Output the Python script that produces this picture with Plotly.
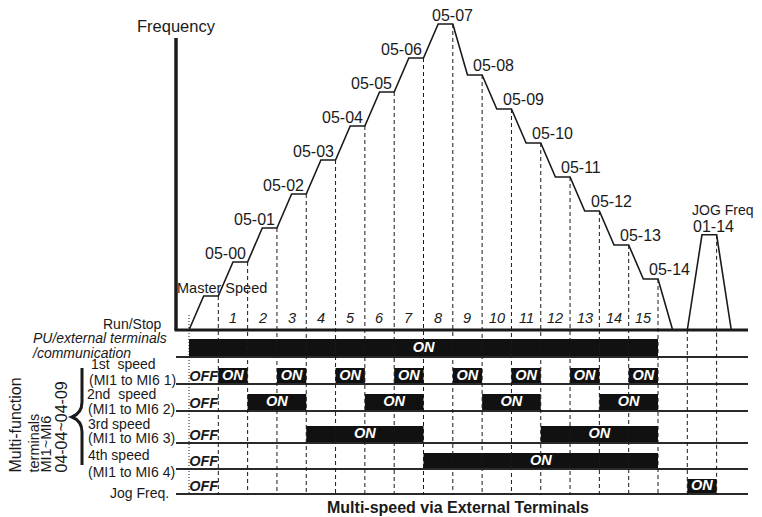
"""Multi-speed via external terminals: timing diagram."""

import plotly.graph_objects as go

FONT = "Liberation Sans, Arial, Helvetica, sans-serif"
INK = "#1a1a1a"

# ---- data -------------------------------------------------------------------
# interval k runs from t=k to t=k+1; the drive ramps for half a step, then holds
speed_params = ["Master Speed", "05-00", "05-01", "05-02", "05-03", "05-04",
                "05-05", "05-06", "05-07", "05-08", "05-09", "05-10",
                "05-11", "05-12", "05-13", "05-14"]
speed_levels = [1.0, 2.0, 3.0, 4.0, 5.0, 6.0, 7.0, 8.0, 9.0,
                7.5, 6.5, 5.5, 4.5, 3.5, 2.5, 1.5]
step_numbers = ["1", "2", "3", "4", "5", "6", "7", "8", "9", "10",
                "11", "12", "13", "14", "15"]

jog_param = "01-14"
jog_level = 2.8

pu_on_start = [0]
pu_on_end = [16]
sp1_on_start = [1, 3, 5, 7, 9, 11, 13, 15]
sp1_on_end = [2, 4, 6, 8, 10, 12, 14, 16]
sp2_on_start = [2, 6, 10, 14]
sp2_on_end = [4, 8, 12, 16]
sp3_on_start = [4, 12]
sp3_on_end = [8, 16]
sp4_on_start = [8]
sp4_on_end = [16]
jog_on_start = [17]
jog_on_end = [18]

# ---- geometry ----------------------------------------------------------------
# All positions below are in window pixels; the page body keeps its default
# 8px margin, so the figure itself is smaller and starts at (8, 8).
PAGE_W, PAGE_H = 762, 517
PAD = 8
W, H = PAGE_W - PAD, PAGE_H - PAD
T0_PX, T_PX = 189.0, 29.3125      # t=0 position and px per step
F0_PX, F_PX = 330.0, 34.0         # frequency baseline and px per level unit
AXIS_PX = 176                     # vertical frequency axis
RIGHT_PX = 748
BOTTOM_PX = 495


def tx(px):
    return (px - T0_PX) / T_PX


def fy(py):
    return (F0_PX - py) / F_PX


def paper(px, py):
    return (px - PAD) / W, 1 - (py - PAD) / H


# (top px, bottom px, starts, ends, show OFF)
rows = [
    (339, 357, pu_on_start, pu_on_end, False),
    (368, 384, sp1_on_start, sp1_on_end, True),
    (394, 411, sp2_on_start, sp2_on_end, True),
    (426, 443, sp3_on_start, sp3_on_end, True),
    (453, 469, sp4_on_start, sp4_on_end, True),
    (479, 494, jog_on_start, jog_on_end, True),
]

fig = go.Figure()

# row baselines
bx, by = [], []
for top, bot, _, _, _ in rows:
    bx += [tx(AXIS_PX), tx(RIGHT_PX), None]
    by += [fy(bot), fy(bot), None]
fig.add_trace(go.Scatter(x=bx, y=by, mode="lines",
                         line={"color": "#2a2a2a", "width": 2}, hoverinfo="skip"))

# dashed step markers
dx, dy = [], []
for k in range(1, len(speed_levels) + 1):
    dx += [k, k, None]
    dy += [speed_levels[k - 1], fy(BOTTOM_PX), None]
dx += [jog_on_start[0], jog_on_start[0], None, jog_on_end[0], jog_on_end[0]]
dy += [0, fy(BOTTOM_PX), None, jog_level, fy(BOTTOM_PX)]
fig.add_trace(go.Scatter(x=dx, y=dy, mode="lines",
                         line={"color": INK, "width": 1, "dash": "4px,3px"},
                         hoverinfo="skip"))
fig.add_trace(go.Scatter(x=[0, 0], y=[fy(315), fy(BOTTOM_PX)], mode="lines",
                         line={"color": INK, "width": 1, "dash": "1px,2px"},
                         hoverinfo="skip"))

# ON bars
for top, bot, starts, ends, _ in rows:
    n = len(starts)
    fig.add_trace(go.Bar(
        orientation="h",
        y=[fy((top + bot) / 2)] * n,
        base=starts,
        x=[e - s for s, e in zip(starts, ends)],
        width=[(bot - top) / F_PX] * n,
        marker={"color": "#111111", "line": {"width": 0}},
        hoverinfo="skip",
    ))
    fig.add_trace(go.Scatter(
        x=[(s + e) / 2 for s, e in zip(starts, ends)],
        y=[fy((top + bot) / 2)] * n,
        mode="text", text=["ON"] * n,
        textfont={"family": FONT, "size": 14.5, "color": "white",
                  "weight": "bold", "style": "italic"},
        hoverinfo="skip",
    ))

# OFF labels before the first step
off_rows = [r for r in rows if r[4]]
fig.add_trace(go.Scatter(
    x=[0.5] * len(off_rows),
    y=[fy(r[1] - 7) for r in off_rows],
    mode="text", text=["OFF"] * len(off_rows),
    textfont={"family": FONT, "size": 14.5, "color": INK,
              "weight": "bold", "style": "italic"},
    hoverinfo="skip",
))

# frequency profile
cx, cy = [0], [0]
for k, lv in enumerate(speed_levels):
    cx += [k + 0.5, k + 1]
    cy += [lv, lv]
cx.append(len(speed_levels) + 0.5)
cy.append(0)
fig.add_trace(go.Scatter(x=cx, y=cy, mode="lines",
                         line={"color": INK, "width": 1.6}, hoverinfo="skip"))
j0, j1 = jog_on_start[0], jog_on_end[0]
fig.add_trace(go.Scatter(x=[j0, j0 + 0.5, j1, j1 + 0.5], y=[0, jog_level, jog_level, 0],
                         mode="lines", line={"color": INK, "width": 1.6},
                         hoverinfo="skip"))

# axes
fig.add_trace(go.Scatter(x=[tx(AXIS_PX), tx(AXIS_PX)], y=[0, fy(38)], mode="lines",
                         line={"color": INK, "width": 3.5}, hoverinfo="skip"))
fig.add_trace(go.Scatter(x=[tx(AXIS_PX - 1.5), tx(RIGHT_PX)], y=[0, 0], mode="lines",
                         line={"color": INK, "width": 3}, hoverinfo="skip"))

annotations = []


def note(text, x, y, size=14, xanchor="center", yanchor="middle", ref="paper", **kw):
    if ref == "paper":
        x, y = paper(x, y)
        kw.update(xref="paper", yref="paper")
    else:
        kw.update(xref="x", yref="y")
    annotations.append(dict(text=text, x=x, y=y, showarrow=False,
                            xanchor=xanchor, yanchor=yanchor,
                            font={"family": FONT, "size": size, "color": INK}, **kw))


# speed parameter labels
for k, (name, lv) in enumerate(zip(speed_params, speed_levels)):
    if k == 0:
        note(name, k + 1.12, lv, 14.5, "center", ref="data", yshift=8)
    elif k < 8:
        note(name, k + 1, lv, 16, "right", ref="data", yshift=9)
    elif k == 8:
        note(name, k + 1, lv, 16, "center", ref="data", yshift=9)
    else:
        note(name, k + 1 - 0.37, lv, 16, "left", ref="data", yshift=10)
note("JOG Freq.", 17.08, jog_level, 14, "left", ref="data", yshift=25)
note(jog_param, 17.12, jog_level, 16, "left", ref="data", yshift=8)

# step numbers
for i, s in enumerate(step_numbers):
    note(f"<i>{s}</i>", i + 1.5, fy(318), 14.5, ref="data")

note("Frequency", 176, 26, 16.5)
note("Run/Stop", 164, 324, 14, "right")
note("<i>PU/external terminals</i>", 31, 338, 14, "left")
note("<i>/communication</i>", 30, 353, 14, "left")
note("1st  speed", 89, 364, 14, "left")
note("(MI1 to MI6 1)", 87, 380, 14, "left")
note("2nd  speed", 85, 394, 14, "left")
note("(MI1 to MI6 2)", 86, 409, 14, "left")
note("3rd speed", 86, 424, 14, "left")
note("(MI1 to MI6 3)", 86, 438, 14, "left")
note("4th speed", 86, 455, 14, "left")
note("(MI1 to MI6 4)", 86, 472, 14, "left")
note("Jog Freq.", 171, 493, 14, "right")

note("Multi-function", 15, 475, 16, "center", "bottom", textangle=-90)
note("terminals", 33, 475, 14.5, "center", "bottom", textangle=-90)
note("MI1~MI6", 45, 475, 14.5, "center", "bottom", textangle=-90)
note("04-04~04-09", 61, 475, 16, "center", "bottom", textangle=-90)

note("<b>Multi-speed via External Terminals</b>", 458, 507, 16)

# curly brace grouping the four speed inputs
bx0, bx1 = tx(82), tx(72)
brace = (f"M {bx0},{fy(368)} L {bx0},{fy(402)} "
         f"Q {bx0},{fy(413)} {bx1},{fy(417)} "
         f"Q {bx0},{fy(421)} {bx0},{fy(432)} L {bx0},{fy(465)}")

fig.update_layout(
    width=W, height=H,
    margin={"l": 0, "r": 0, "t": 0, "b": 0},
    paper_bgcolor="white", plot_bgcolor="white",
    showlegend=False, barmode="overlay",
    xaxis={"range": [tx(PAD), tx(PAGE_W)], "visible": False, "fixedrange": True},
    yaxis={"range": [fy(PAGE_H), fy(PAD)], "visible": False, "fixedrange": True},
    annotations=annotations,
    shapes=[{"type": "path", "path": brace, "xref": "x", "yref": "y",
             "line": {"color": INK, "width": 3}}],
)

fig.write_html("out.html")
